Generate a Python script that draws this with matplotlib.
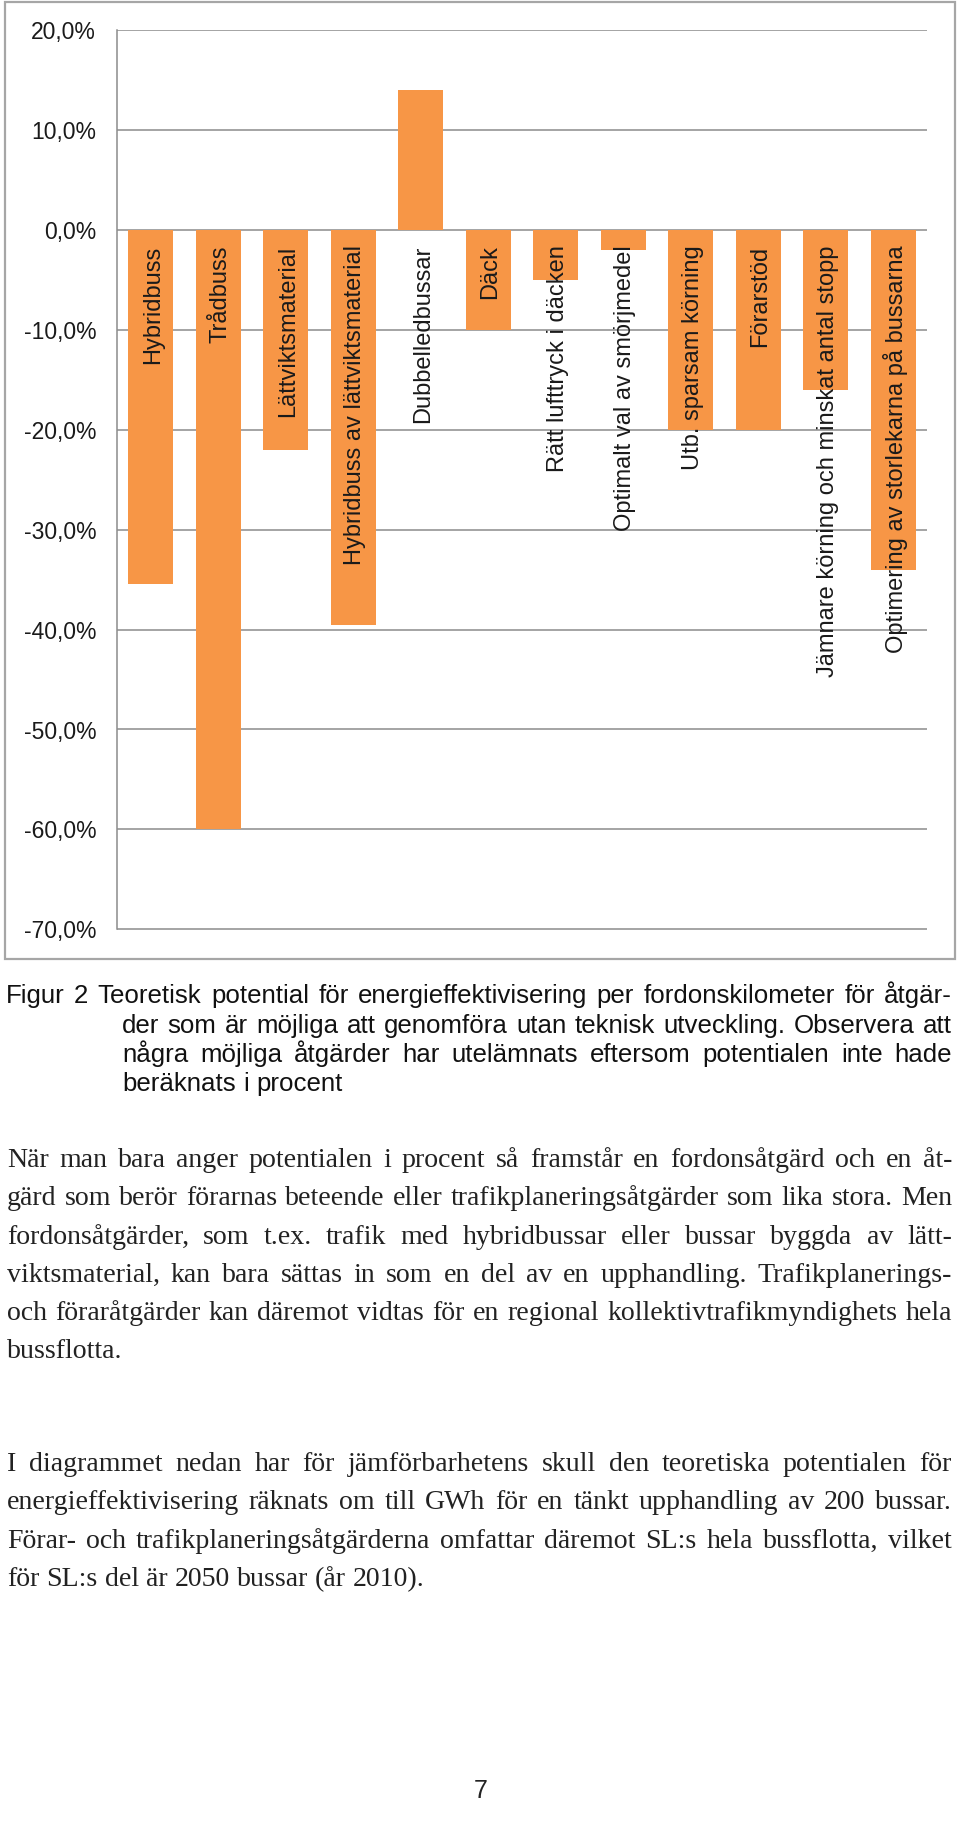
import matplotlib
matplotlib.use("Agg")
import matplotlib.pyplot as plt
from matplotlib.font_manager import FontProperties
from matplotlib.patches import Rectangle

# ---------------- data ----------------
categories = [
    "Hybridbuss",
    "Trådbuss",
    "Lättviktsmaterial",
    "Hybridbuss av lättviktsmaterial",
    "Dubbelledbussar",
    "Däck",
    "Rätt lufttryck i däcken",
    "Optimalt val av smörjmedel",
    "Utb. sparsam körning",
    "Förarstöd",
    "Jämnare körning och minskat antal stopp",
    "Optimering av storlekarna på bussarna",
]
values = [-35.4, -60.0, -22.0, -39.5, 14.0, -10.0, -5.0, -2.0, -20.0, -20.0, -16.0, -34.0]
ytick_values = [-70, -60, -50, -40, -30, -20, -10, 0, 10, 20]
ytick_labels = ["-70,0%", "-60,0%", "-50,0%", "-40,0%", "-30,0%", "-20,0%",
                "-10,0%", "0,0%", "10,0%", "20,0%"]

caption_lines = [
    "Figur 2 Teoretisk potential för energieffektivisering per fordonskilometer för åtgär-",
    "der som är möjliga att genomföra utan teknisk utveckling. Observera att",
    "några möjliga åtgärder har utelämnats eftersom potentialen inte hade",
    "beräknats i procent",
]
para1_lines = [
    "När man bara anger potentialen i procent så framstår en fordonsåtgärd och en åt-",
    "gärd som berör förarnas beteende eller trafikplaneringsåtgärder som lika stora. Men",
    "fordonsåtgärder, som t.ex. trafik med hybridbussar eller bussar byggda av lätt-",
    "viktsmaterial, kan bara sättas in som en del av en upphandling. Trafikplanerings-",
    "och föraråtgärder kan däremot vidtas för en regional kollektivtrafikmyndighets hela",
    "bussflotta.",
]
para2_lines = [
    "I diagrammet nedan har för jämförbarhetens skull den teoretiska potentialen för",
    "energieffektivisering räknats om till GWh för en tänkt upphandling av 200 bussar.",
    "Förar- och trafikplaneringsåtgärderna omfattar däremot SL:s hela bussflotta, vilket",
    "för SL:s del är 2050 bussar (år 2010).",
]
page_number = "7"

# ---------------- figure ----------------
W, H = 960, 1836
fig = plt.figure(figsize=(W / 100, H / 100), dpi=100)
fig.patch.set_facecolor("white")

page = fig.add_axes([0, 0, 1, 1])
page.set_xlim(0, W)
page.set_ylim(H, 0)
page.axis("off")
page.set_zorder(0)

# chart outer frame
page.add_patch(Rectangle((5, 2), 950, 957, fill=False, ec="#a6a6a6", lw=1.6))

# chart axes
ax = fig.add_axes([117 / W, 1 - 929.5 / H, 810 / W, 900 / H])
ax.set_zorder(1)
ax.patch.set_alpha(0)
x = list(range(len(categories)))
ax.bar(x, values, width=0.66, color="#F79646", zorder=2)
ax.set_xlim(-0.5, len(categories) - 0.5)
ax.set_ylim(-70, 20)
ax.set_yticks(ytick_values)
ax.set_yticklabels(ytick_labels, fontsize=16.5, family="Liberation Sans", color="#1a1a1a")
ax.tick_params(axis="y", length=0, pad=15)
ax.tick_params(axis="x", bottom=False, labelbottom=False)
ax.set_axisbelow(True)
ax.grid(axis="y", color="#8c8c8c", lw=1.1)
for s in ["top", "right", "bottom"]:
    ax.spines[s].set_visible(False)
ax.spines["left"].set_color("#8c8c8c")
ax.spines["left"].set_linewidth(1.1)

for xi, cat in zip(x, categories):
    ax.annotate(cat, (xi, 0), xytext=(1.5, -11.5), textcoords="offset points",
                rotation=90, ha="center", va="top", fontsize=17,
                family="Liberation Sans", color="#1a1a1a", zorder=3)

# ---------------- justified text ----------------
fig.canvas.draw()
renderer = fig.canvas.get_renderer()


def text_w(s, fp):
    w, h, d = renderer.get_text_width_height_descent(s, fp, ismath=False)
    return w


def fit_size(lines, family, avail, maxsize):
    # largest size so that every justified line fits its available width
    best = maxsize
    for line, (x0, x1, just) in zip(lines, avail):
        if not just:
            continue
        fp = FontProperties(family=family, size=10)
        nat = text_w(line, fp)
        s = 10 * (x1 - x0) / nat * 0.99
        best = min(best, s)
    return best


def draw_lines(lines, avail, baselines, family, size, color):
    fp = FontProperties(family=family, size=size)
    space = text_w("a a", fp) - text_w("aa", fp)
    for line, (x0, x1, just), yb in zip(lines, avail, baselines):
        words = line.split(" ")
        widths = [text_w(w, fp) for w in words]
        if just and len(words) > 1:
            gap = (x1 - x0 - sum(widths)) / (len(words) - 1)
        else:
            gap = space
        xx = x0
        for w, wd in zip(words, widths):
            page.text(xx, yb, w, fontproperties=fp, ha="left", va="baseline", color=color)
            xx += wd + gap


# caption
cap_avail = [(6, 952, True), (122, 952, True), (122, 952, True), (122, 952, False)]
cap_base = [1003, 1033, 1062, 1091]
cap_size = fit_size(caption_lines, "Liberation Sans", cap_avail, 21)
draw_lines(caption_lines, cap_avail, cap_base, "Liberation Sans", cap_size, "#111111")

# body paragraphs
p1_avail = [(7, 952, True)] * 5 + [(7, 952, False)]
p1_base = [1167 + 38.3 * k for k in range(6)]
p2_avail = [(7, 952, True)] * 3 + [(7, 952, False)]
p2_base = [1471 + 38.3 * k for k in range(4)]
body_size = min(fit_size(para1_lines, "Liberation Serif", p1_avail, 21),
                fit_size(para2_lines, "Liberation Serif", p2_avail, 21))
draw_lines(para1_lines, p1_avail, p1_base, "Liberation Serif", body_size, "#222222")
draw_lines(para2_lines, p2_avail, p2_base, "Liberation Serif", body_size, "#222222")

# page number
page.text(481, 1798, page_number, ha="center", va="baseline", fontsize=18,
          family="Liberation Sans", color="#222222")

fig.savefig("out.png", dpi=100, facecolor="white")
